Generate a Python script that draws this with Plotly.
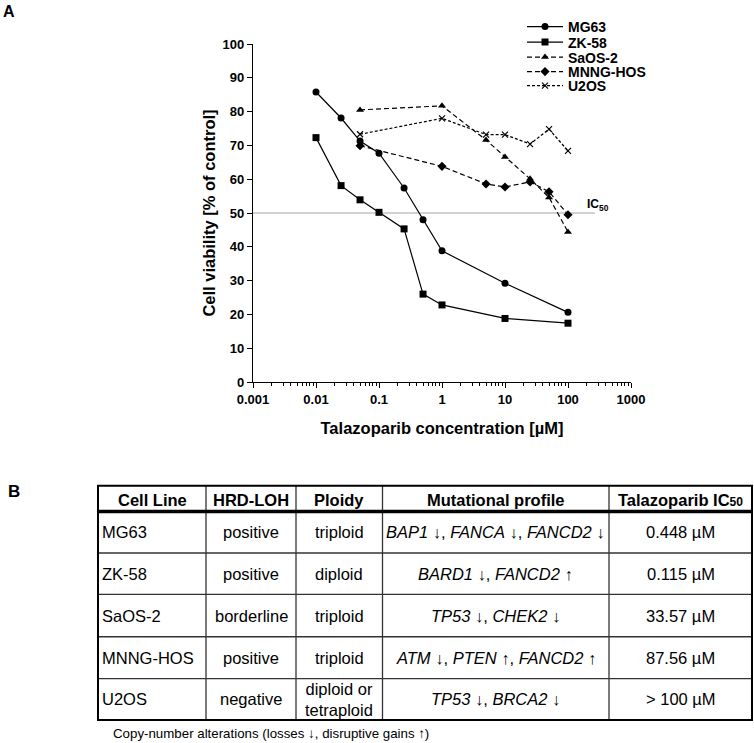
import plotly.graph_objects as go

# ---------------- Panel A data ----------------
series_names = ["MG63", "ZK-58", "SaOS-2", "MNNG-HOS", "U2OS"]

conc_mg63 = [0.01, 0.025, 0.05, 0.1, 0.25, 0.5, 1, 10, 100]
viab_mg63 = [85.8, 78.1, 71.3, 67.7, 57.4, 48.0, 38.8, 29.2, 20.6]

conc_zk58 = [0.01, 0.025, 0.05, 0.1, 0.25, 0.5, 1, 10, 100]
viab_zk58 = [72.3, 58.1, 53.9, 50.2, 45.3, 26.0, 22.8, 18.8, 17.4]

conc_saos2 = [0.05, 1, 5, 10, 25, 50, 100]
viab_saos2 = [80.5, 81.7, 71.6, 66.6, 60.1, 54.6, 44.4]

conc_mnng = [0.05, 1, 5, 10, 25, 50, 100]
viab_mnng = [69.9, 63.8, 58.6, 57.7, 59.2, 56.3, 49.5]

conc_u2os = [0.05, 1, 5, 10, 25, 50, 100]
viab_u2os = [73.3, 78.0, 73.2, 73.2, 70.4, 74.8, 68.4]

ic50_level = 50
x_tick_vals = [0.001, 0.01, 0.1, 1, 10, 100, 1000]
x_tick_text = ["0.001", "0.01", "0.1", "1", "10", "100", "1000"]
y_tick_vals = [0, 10, 20, 30, 40, 50, 60, 70, 80, 90, 100]

# ---------------- Panel B data ----------------
table_headers = ["Cell Line", "HRD-LOH", "Ploidy", "Mutational profile",
                 "Talazoparib IC<span style='font-size:12px'>50</span>"]
cell_lines = ["MG63", "ZK-58", "SaOS-2", "MNNG-HOS", "U2OS"]
hrd_loh = ["positive", "positive", "borderline", "positive", "negative"]
ploidy = ["triploid", "diploid", "triploid", "triploid", "diploid or<br>tetraploid"]
mutational_profile = [
    "<i>BAP1</i> ↓, <i>FANCA</i> ↓, <i>FANCD2</i> ↓",
    "<i>BARD1</i> ↓, <i>FANCD2</i> ↑",
    "<i>TP53</i> ↓, <i>CHEK2</i> ↓",
    "<i>ATM</i> ↓, <i>PTEN</i> ↑, <i>FANCD2</i> ↑",
    "<i>TP53</i> ↓, <i>BRCA2</i> ↓",
]
talazoparib_ic50 = ["0.448 µM", "0.115 µM", "33.57 µM", "87.56 µM", "> 100 µM"]
footnote = "Copy-number alterations (losses ↓, disruptive gains ↑)"

# ---------------- layout geometry (pixels) ----------------
W, H = 754, 743
PL, PR, PT, PB = 253, 631, 43, 382  # plot area in px
FONT = "Liberation Sans, Arial, sans-serif"


def px_x(px):
    return (px - PL) / (PR - PL)


def px_y(py):
    return (PB - py) / (PB - PT)


fig = go.Figure()

styles = [
    dict(symbol="circle", size=7, dash="solid"),
    dict(symbol="square", size=7, dash="solid"),
    dict(symbol="triangle-up", size=7, dash="5px,3px"),
    dict(symbol="diamond", size=7, dash="5px,3px"),
    dict(symbol="x-thin-open", size=6, dash="3px,2px"),
]
legend_ids = ["legend", "legend2", "legend3", "legend4", "legend5"]
legend_rows_px = [27, 42.5, 57.5, 72, 86]
xs = [conc_mg63, conc_zk58, conc_saos2, conc_mnng, conc_u2os]
ys = [viab_mg63, viab_zk58, viab_saos2, viab_mnng, viab_u2os]

for name, x, y, st, lg in zip(series_names, xs, ys, styles, legend_ids):
    marker = dict(symbol=st["symbol"], size=st["size"], color="black")
    if st["symbol"].startswith("x-thin"):
        marker["line"] = dict(color="black", width=1.2)
    fig.add_trace(go.Scatter(
        x=x, y=y, name=name, mode="lines+markers", legend=lg,
        line=dict(color="black", width=1.2, dash=st["dash"]),
        marker=marker,
    ))

legend_layout = {}
for lg, ry in zip(legend_ids, legend_rows_px):
    legend_layout[lg] = dict(
        x=px_x(522), y=px_y(ry), xanchor="left", yanchor="middle",
        bgcolor="rgba(0,0,0,0)", borderwidth=0,
        font=dict(family=FONT, size=14, color="black", weight="bold"),
        itemwidth=36,
    )

# IC50 reference line
fig.add_shape(type="line", xref="paper", yref="y", x0=0, x1=px_x(595),
              y0=ic50_level, y1=ic50_level, line=dict(color="#a6a6a6", width=1.2),
              layer="below")
fig.add_annotation(xref="paper", yref="y", x=px_x(585), y=ic50_level, yshift=-2,
                   xanchor="left", yanchor="bottom", showarrow=False,
                   text="<b>IC<sub>50</sub></b>", font=dict(family=FONT, size=12, color="black"))

# Panel labels
fig.add_annotation(xref="paper", yref="paper", x=px_x(1), y=px_y(0), xanchor="left", yanchor="top",
                   showarrow=False, text="<b>A</b>", font=dict(family=FONT, size=16, color="black"))
fig.add_annotation(xref="paper", yref="paper", x=px_x(6), y=px_y(480), xanchor="left", yanchor="top",
                   showarrow=False, text="<b>B</b>", font=dict(family=FONT, size=17, color="black"))

# ---------------- table (panel B) ----------------
col_edges = [98, 206, 296, 382.5, 609, 752]
row_edges = [486, 512, 553.5, 595, 637.5, 679.5, 721]

for cx in col_edges[1:-1]:
    fig.add_shape(type="line", xref="paper", yref="paper",
                  x0=px_x(cx), x1=px_x(cx), y0=px_y(row_edges[0]), y1=px_y(row_edges[-1]),
                  line=dict(color="#333333", width=1.3))
for ry in row_edges[2:-1]:
    fig.add_shape(type="line", xref="paper", yref="paper",
                  x0=px_x(col_edges[0]), x1=px_x(col_edges[-1]), y0=px_y(ry), y1=px_y(ry),
                  line=dict(color="#333333", width=1.3))
fig.add_shape(type="line", xref="paper", yref="paper",
              x0=px_x(col_edges[0]), x1=px_x(col_edges[-1]),
              y0=px_y(row_edges[1]), y1=px_y(row_edges[1]),
              line=dict(color="black", width=3.5))
fig.add_shape(type="rect", xref="paper", yref="paper",
              x0=px_x(col_edges[0]), x1=px_x(col_edges[-1]),
              y0=px_y(row_edges[0]), y1=px_y(row_edges[-1]),
              line=dict(color="black", width=2))

for i, htxt in enumerate(table_headers):
    cx = (col_edges[i] + col_edges[i + 1]) / 2
    cy = (row_edges[0] + row_edges[1]) / 2 + 1
    fig.add_annotation(xref="paper", yref="paper", x=px_x(cx), y=px_y(cy),
                       xanchor="center", yanchor="middle", showarrow=False,
                       text="<b>" + htxt + "</b>",
                       font=dict(family=FONT, size=16.5, color="black"))

columns = [cell_lines, hrd_loh, ploidy, mutational_profile, talazoparib_ic50]
for c, col in enumerate(columns):
    for r, txt in enumerate(col):
        cy = (row_edges[r + 1] + row_edges[r + 2]) / 2
        if c == 0:
            x = px_x(col_edges[0] + 1.5)
            xa = "left"
        else:
            x = px_x((col_edges[c] + col_edges[c + 1]) / 2)
            xa = "center"
        fig.add_annotation(xref="paper", yref="paper", x=x, y=px_y(cy),
                           xanchor=xa, yanchor="middle", showarrow=False,
                           text=txt, align="center",
                           font=dict(family=FONT, size=16.5, color="black"))

fig.add_annotation(xref="paper", yref="paper", x=px_x(111), y=px_y(735),
                   xanchor="left", yanchor="middle", showarrow=False,
                   text=footnote, font=dict(family=FONT, size=13.3, color="black"))

# ---------------- axes & layout ----------------
fig.update_layout(
    width=W, height=H,
    margin=dict(l=PL, r=W - PR, t=PT, b=H - PB, pad=0),
    paper_bgcolor="white", plot_bgcolor="white",
    font=dict(family=FONT, color="black"),
    showlegend=True,
    xaxis=dict(
        type="log", range=[-3, 3],
        tickmode="array", tickvals=x_tick_vals, ticktext=x_tick_text,
        ticks="outside", ticklen=5, tickwidth=1, tickcolor="black",
        minor=dict(ticks="outside", ticklen=3, tickwidth=1, tickcolor="black", dtick="D1", showgrid=False),
        showline=True, linecolor="black", linewidth=1.2,
        showgrid=False, zeroline=False,
        tickfont=dict(family=FONT, size=13, color="black", weight="bold"),
        title=dict(text="<b>Talazoparib concentration [µM]</b>", standoff=16,
                   font=dict(family=FONT, size=16.5, color="black")),
    ),
    yaxis=dict(
        range=[0, 100], tickmode="array", tickvals=y_tick_vals,
        ticks="outside", ticklen=5, tickwidth=1, tickcolor="black",
        showline=True, linecolor="black", linewidth=1.2,
        showgrid=False, zeroline=False,
        tickfont=dict(family=FONT, size=13, color="black", weight="bold"),
        title=dict(text="<b>Cell viability [% of control]</b>", standoff=2,
                   font=dict(family=FONT, size=16.5, color="black")),
    ),
    **legend_layout,
)

fig.write_html("out.html",
               config={"displayModeBar": False},
               post_script="document.body.style.margin='0';document.body.style.overflow='hidden';")
